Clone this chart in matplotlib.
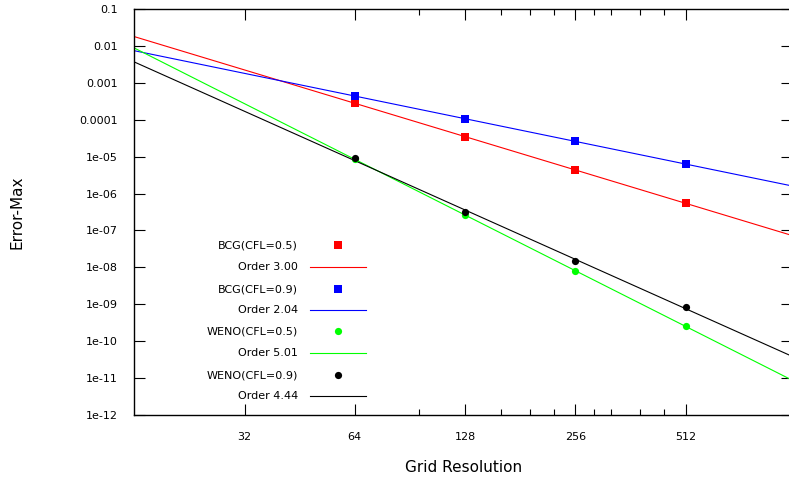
import numpy as np
import matplotlib
matplotlib.use("Agg")
import matplotlib.pyplot as plt
from matplotlib.ticker import FixedLocator, NullFormatter, FixedFormatter
from matplotlib.lines import Line2D

N = [64, 128, 256, 512]
bcg05 = [2.84e-4, 3.4e-5, 4.33e-6, 5.53e-7]
bcg09 = [4.39e-4, 1.04e-4, 2.65e-5, 6.3e-6]
weno05 = [8.6e-6, 2.6e-7, 7.9e-9, 2.57e-10]
weno09 = [9.0e-6, 3.15e-7, 1.48e-8, 8.4e-10]
orders = [3.00, 2.04, 5.01, 4.44]
series_labels = ["BCG(CFL=0.5)", "BCG(CFL=0.9)", "WENO(CFL=0.5)", "WENO(CFL=0.9)"]
colors = ["#ff0000", "#0000ff", "#00ff00", "#000000"]
markers = ["s", "s", "o", "o"]
xticks_major = [32, 64, 128, 256, 512]
xticks_minor = [96, 160, 192, 224, 288, 320, 384, 448]
yticks = [1e-1, 1e-2, 1e-3, 1e-4, 1e-5, 1e-6, 1e-7, 1e-8, 1e-9, 1e-10, 1e-11, 1e-12]
ytick_labels = ["0.1", "0.01", "0.001", "0.0001", "1e-05", "1e-06", "1e-07",
                "1e-08", "1e-09", "1e-10", "1e-11", "1e-12"]

fig = plt.figure(figsize=(7.89, 4.83), dpi=100)
ax = fig.add_axes([134.3/789, 68/483, (792 - 134.3)/789, (415 - 9)/483])
ax.set_xscale("log")
ax.set_yscale("log")
ax.set_xlim(16, 1000)
ax.set_ylim(1e-12, 0.1)

xs = np.array([16, 1000], dtype=float)
data = [bcg05, bcg09, weno05, weno09]
for d, p, c, m in zip(data, orders, colors, markers):
    n = np.array(N, dtype=float)
    y = np.array(d)
    logC = np.mean(np.log10(y) + p * np.log10(n))
    fit = 10 ** (logC - p * np.log10(xs))
    ax.plot(xs, fit, color=c, lw=0.8, zorder=2)
    ax.plot(n, y, linestyle="none", marker=m, color=c, ms=5.2, mew=0, zorder=3)

# legend drawn gnuplot-style
rows_y = [245, 267, 289, 310, 331, 353, 375, 396]
k = 0
for lab, p, c, m in zip(series_labels, orders, colors, markers):
    for kind in ("pt", "ln"):
        ypix = rows_y[k]
        yf = 1 - ypix / 483
        text = lab if kind == "pt" else "Order %.2f" % p
        fig.text(298/789, yf, text, ha="right", va="center", fontsize=8)
        if kind == "pt":
            fig.add_artist(Line2D([338/789], [yf], marker=m, color=c, ms=5.2, mew=0,
                                  linestyle="none", transform=fig.transFigure))
        else:
            fig.add_artist(Line2D([310/789, 366/789], [yf, yf], color=c, lw=0.8,
                                  transform=fig.transFigure))
        k += 1

ax.xaxis.set_major_locator(FixedLocator(xticks_major))
ax.xaxis.set_major_formatter(FixedFormatter([str(v) for v in xticks_major]))
ax.xaxis.set_minor_locator(FixedLocator(xticks_minor))
ax.xaxis.set_minor_formatter(NullFormatter())
ax.yaxis.set_major_locator(FixedLocator(yticks))
ax.yaxis.set_major_formatter(FixedFormatter(ytick_labels))
ax.yaxis.set_minor_locator(FixedLocator([]))

ax.tick_params(which="both", direction="in", top=True, right=True, labelsize=8, width=0.8)
ax.tick_params(which="major", length=8, pad=12)
ax.tick_params(which="minor", length=4)
for s in ax.spines.values():
    s.set_linewidth(1.0)

fig.text(17/789, 1 - 212/483, "Error-Max", rotation=90, ha="center", va="center", fontsize=11)
fig.text(464/789, 1 - 468/483, "Grid Resolution", ha="center", va="center", fontsize=11)

fig.savefig("out.png", dpi=100)
